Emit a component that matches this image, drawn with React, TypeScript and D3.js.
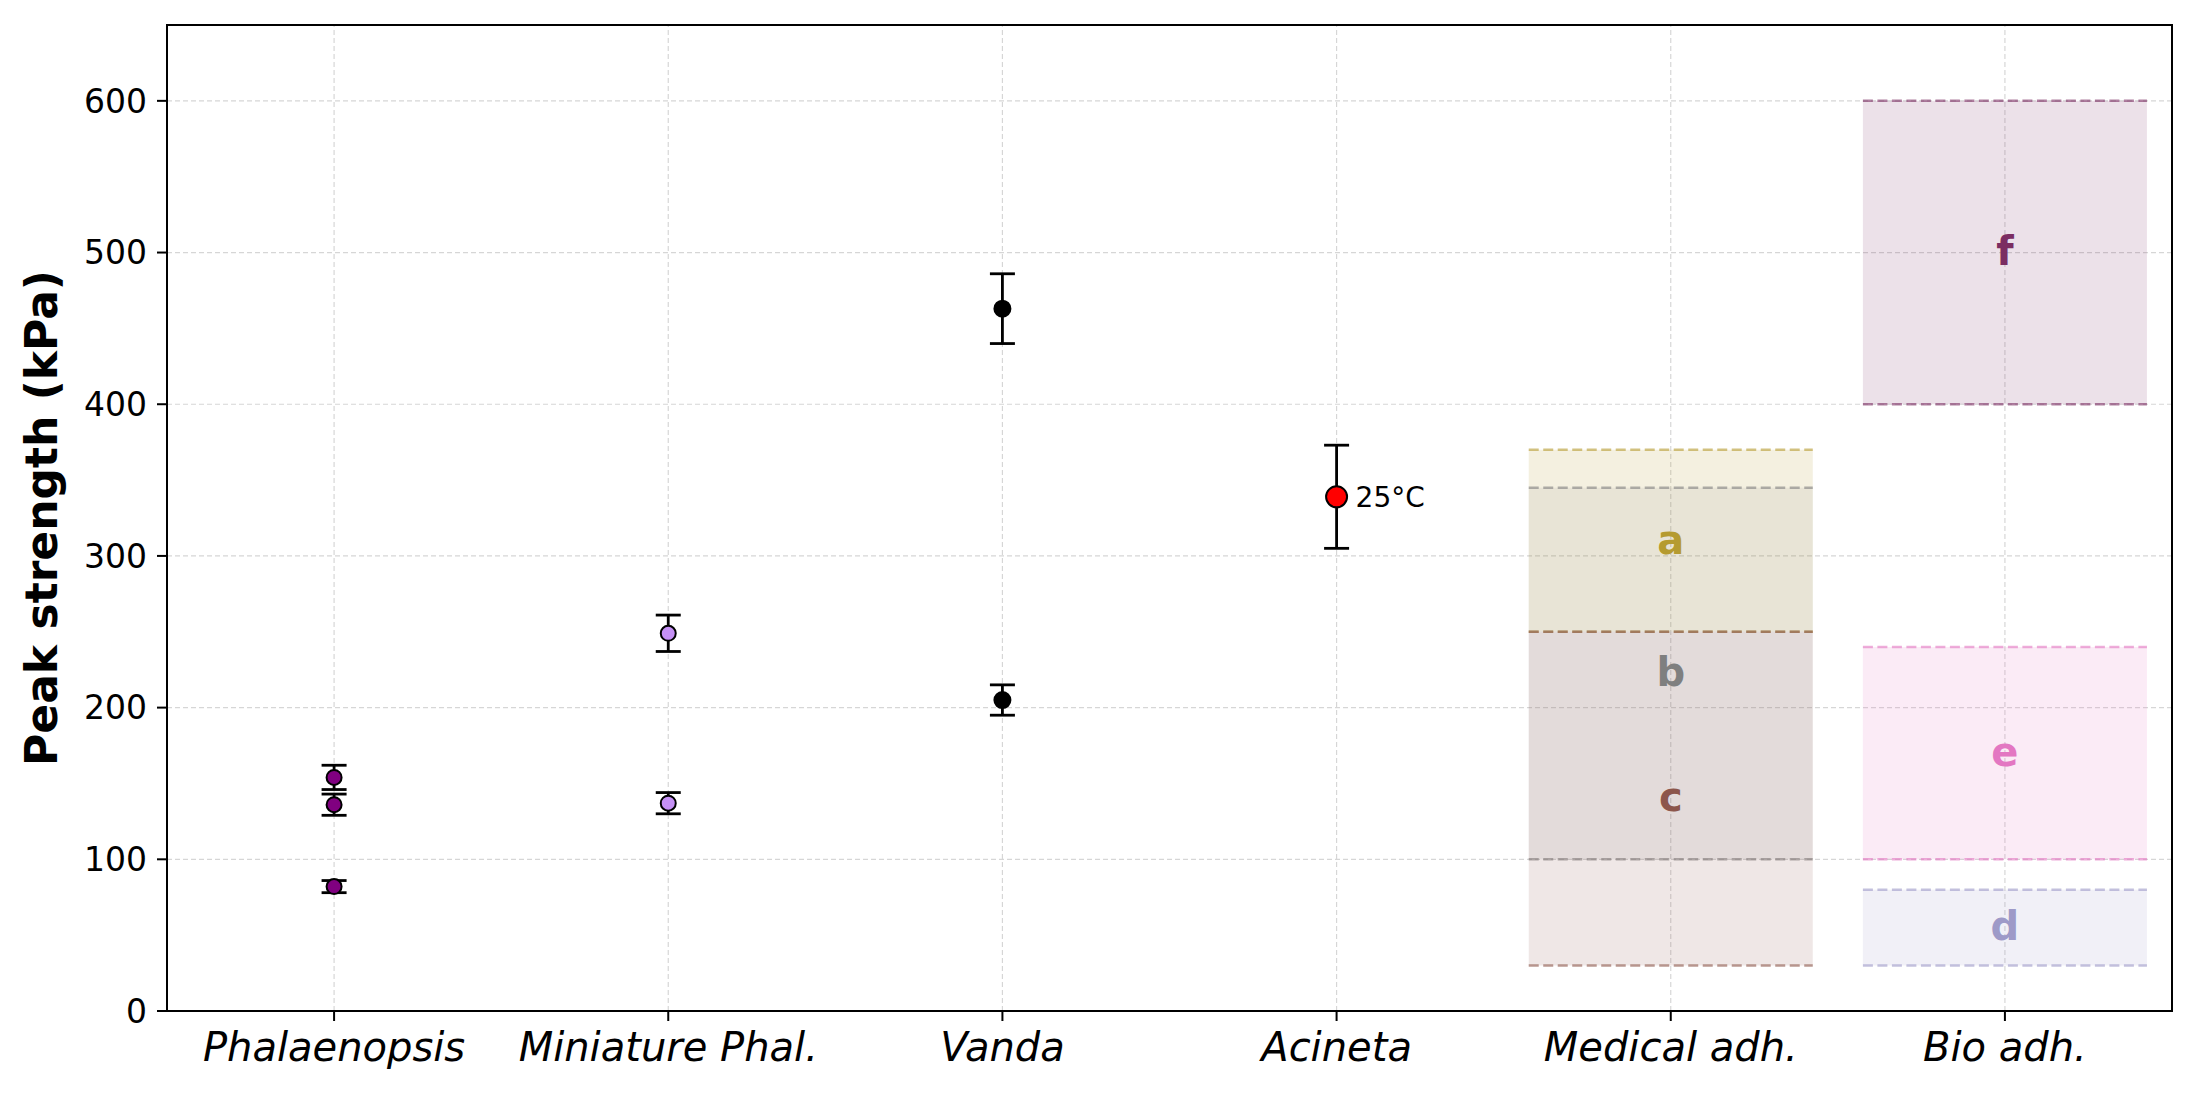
import React from 'react';
import * as d3 from 'd3';

// categories along x
const categories = ['Phalaenopsis', 'Miniature Phal.', 'Vanda', 'Acineta', 'Medical adh.', 'Bio adh.'];
const yTicks = [0, 100, 200, 300, 400, 500, 600];

// measured points (kPa) and their error bars
const phalValues = [154, 136, 82];
const phalErrors = [8, 7, 4];
const miniValues = [249, 137];
const miniErrors = [12, 7];
const vandaValues = [463, 205];
const vandaErrors = [23, 10];
const acinetaValues = [339];
const acinetaErrors = [34];
const acinetaNote = '25°C';

// reference ranges for adhesives
const medicalLabels = ['a', 'b', 'c'];
const medicalLow = [250, 100, 30];
const medicalHigh = [370, 345, 250];
const bioLabels = ['d', 'e', 'f'];
const bioLow = [30, 100, 400];
const bioHigh = [80, 240, 600];

const medicalColors = ['#b59b30', '#7f7f7f', '#8c564b'];
const medicalAlpha = [0.15, 0.1, 0.14];
const bioColors = ['#9e9ac8', '#e377c2', '#7b2d62'];
const bioAlpha = [0.15, 0.15, 0.14];

const W = 2200;
const H = 1100;
const margin = { top: 25, right: 28, bottom: 89, left: 167 };
const font = 'DejaVu Sans, sans-serif';

type Series = { cat: number; values: number[]; errors: number[]; fill: string; r: number };

const series: Series[] = [
  { cat: 0, values: phalValues, errors: phalErrors, fill: '#800080', r: 7.5 },
  { cat: 1, values: miniValues, errors: miniErrors, fill: '#c590f5', r: 7.5 },
  { cat: 2, values: vandaValues, errors: vandaErrors, fill: '#000000', r: 8 },
  { cat: 3, values: acinetaValues, errors: acinetaErrors, fill: '#ff0000', r: 10.5 },
];

const App: React.FC = () => {
  const x = d3.scaleLinear().domain([-0.5, 5.5]).range([margin.left, W - margin.right]);
  const y = d3.scaleLinear().domain([0, 650]).range([H - margin.bottom, margin.top]);
  const x0 = margin.left;
  const x1 = W - margin.right;
  const y0 = H - margin.bottom;
  const y1 = margin.top;
  const half = 0.425;
  const cap = 12.5;

  const bands = [
    ...medicalLabels.map((l, i) => ({ cat: 4, label: l, lo: medicalLow[i], hi: medicalHigh[i], color: medicalColors[i], alpha: medicalAlpha[i] })),
    ...bioLabels.map((l, i) => ({ cat: 5, label: l, lo: bioLow[i], hi: bioHigh[i], color: bioColors[i], alpha: bioAlpha[i] })),
  ];

  return (
    <svg width={W} height={H} style={{ position: 'absolute', left: 0, top: 0, background: '#fff' }}>
      <rect x={0} y={0} width={W} height={H} fill="#fff" />

      {/* grid */}
      <g stroke="#d6d6d6" strokeWidth={1.2} strokeDasharray="5,3">
        {yTicks.map(t => (
          <line key={'gy' + t} x1={x0} x2={x1} y1={y(t)} y2={y(t)} />
        ))}
        {categories.map((c, i) => (
          <line key={'gx' + c} x1={x(i)} x2={x(i)} y1={y0} y2={y1} />
        ))}
      </g>

      {/* adhesive ranges */}
      {bands.map(b => (
        <g key={'band' + b.label}>
          <rect
            x={x(b.cat - half)}
            width={x(b.cat + half) - x(b.cat - half)}
            y={y(b.hi)}
            height={y(b.lo) - y(b.hi)}
            fill={b.color}
            fillOpacity={b.alpha}
          />
          {[b.lo, b.hi].map(v => (
            <line
              key={v}
              x1={x(b.cat - half)}
              x2={x(b.cat + half)}
              y1={y(v)}
              y2={y(v)}
              stroke={b.color}
              strokeOpacity={0.6}
              strokeWidth={2.5}
              strokeDasharray="10,4.5"
            />
          ))}
        </g>
      ))}
      {bands.map(b => (
        <text
          key={'bl' + b.label}
          x={x(b.cat)}
          y={y((b.lo + b.hi) / 2)}
          dy="0.32em"
          textAnchor="middle"
          fontFamily={font}
          fontWeight="bold"
          fontSize={40}
          fill={b.color}
        >
          {b.label}
        </text>
      ))}

      {/* error bars and points */}
      {series.map(s =>
        s.values.map((v, i) => (
          <g key={`p${s.cat}-${i}`}>
            <g stroke="#000" strokeWidth={2.8}>
              <line x1={x(s.cat)} x2={x(s.cat)} y1={y(v - s.errors[i])} y2={y(v + s.errors[i])} />
              <line x1={x(s.cat) - cap} x2={x(s.cat) + cap} y1={y(v - s.errors[i])} y2={y(v - s.errors[i])} />
              <line x1={x(s.cat) - cap} x2={x(s.cat) + cap} y1={y(v + s.errors[i])} y2={y(v + s.errors[i])} />
            </g>
            <circle cx={x(s.cat)} cy={y(v)} r={s.r} fill={s.fill} stroke="#000" strokeWidth={2} />
          </g>
        ))
      )}
      <text
        x={x(3) + 19}
        y={y(acinetaValues[0])}
        dy="0.35em"
        fontFamily={font}
        fontSize={28}
        fill="#000"
      >
        {acinetaNote}
      </text>

      {/* frame */}
      <rect x={x0} y={y1} width={x1 - x0} height={y0 - y1} fill="none" stroke="#000" strokeWidth={2} />

      {/* y axis */}
      {yTicks.map(t => (
        <g key={'yt' + t}>
          <line x1={x0 - 10} x2={x0} y1={y(t)} y2={y(t)} stroke="#000" strokeWidth={2} />
          <text x={x0 - 20} y={y(t)} dy="0.36em" textAnchor="end" fontFamily={font} fontSize={33} fill="#000">
            {t}
          </text>
        </g>
      ))}
      <text
        transform={`translate(57,${(y0 + y1) / 2}) rotate(-90)`}
        textAnchor="middle"
        fontFamily={font}
        fontWeight="bold"
        fontSize={44}
        fill="#000"
      >
        Peak strength (kPa)
      </text>

      {/* x axis */}
      {categories.map((c, i) => (
        <g key={'xt' + c}>
          <line x1={x(i)} x2={x(i)} y1={y0} y2={y0 + 10} stroke="#000" strokeWidth={2} />
          <text x={x(i)} y={y0 + 50} textAnchor="middle" fontFamily={font} fontStyle="italic" fontSize={40} fill="#000">
            {c}
          </text>
        </g>
      ))}
    </svg>
  );
};

export default App;
